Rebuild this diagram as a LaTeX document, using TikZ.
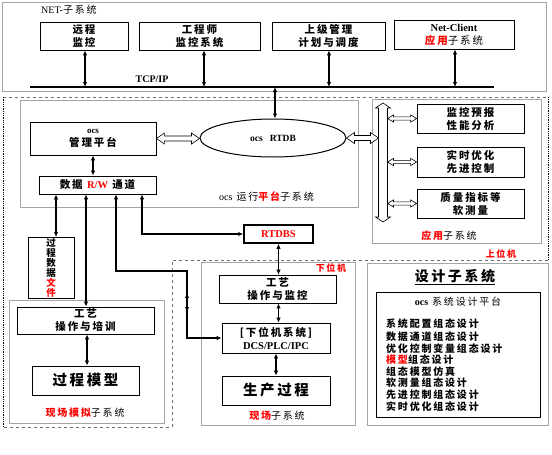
\documentclass[tikz,border=0pt]{standalone}
\usepackage{fontspec}
\setmainfont{Liberation Serif}
\newfontfamily\cjk[LetterSpace=18]{Noto Sans CJK SC}
\usetikzlibrary{calc,arrows.meta,shapes.geometric}
\definecolor{gline}{RGB}{165,165,165}
\definecolor{dline}{RGB}{110,110,110}
\newcommand\fs[2]{\fontsize{#1}{#2}\selectfont}
\newcommand\lt[1]{{\rmfamily\bfseries #1}}
\newcommand\rd[1]{\textcolor{red}{#1}}
\newcommand\boxat[7]{\node[box,#6,minimum width={#4pt-#2pt},minimum height={#5pt-#3pt}] (#1) at ({(#2+#4)/2},{(#3+#5)/2}) {#7};}
\newcommand\hollowH[5]{%
 \draw[hollow] let \p1=#1, \p2=#2 in
 (\x1,\y1) -- (\x1+#5,\y1+#4) -- (\x1+#5,\y1+#3) -- (\x2-#5,\y1+#3) -- (\x2-#5,\y1+#4) -- (\x2,\y1)
 -- (\x2-#5,\y1-#4) -- (\x2-#5,\y1-#3) -- (\x1+#5,\y1-#3) -- (\x1+#5,\y1-#4) -- cycle;}
\newcommand\hollowV[5]{%
 \draw[hollow] let \p1=#1, \p2=#2 in
 (\x1,\y1) -- (\x1+#4,\y1-#5) -- (\x1+#3,\y1-#5) -- (\x1+#3,\y2+#5) -- (\x1+#4,\y2+#5) -- (\x1,\y2)
 -- (\x1-#4,\y2+#5) -- (\x1-#3,\y2+#5) -- (\x1-#3,\y1-#5) -- (\x1-#4,\y1-#5) -- cycle;}
\begin{document}
\begin{tikzpicture}[x=1pt,y=-1pt,
  box/.style={draw=black,line width=0.8pt,fill=white,align=center,inner sep=1pt,font=\cjk\bfseries\fs{10.5}{13}},
  gbox/.style={draw=gline,line width=0.9pt},
  conn/.style={line width=1.5pt,{Latex[length=5pt,width=4.5pt]}-{Latex[length=5pt,width=4.5pt]}},
  hollow/.style={draw=black,fill=white,line width=0.6pt,line join=miter},
  lbl/.style={inner sep=0pt,font=\cjk\fs{10}{12}},
  item/.style={inner sep=0pt,anchor=west,font=\cjk\bfseries\fs{10}{12}}]
\useasboundingbox (0,0) rectangle (552,455);
\fill[white] (0,0) rectangle (552,455);

% ---------- NET subsystem ----------
\draw[gbox] (2,2) rectangle (546,91);
\node[lbl,anchor=west] (netlbl) at (41,10) {{\rmfamily NET-}子系统};
\boxat{rc}{40}{22}{128}{50}{}{远程\\监控}
\boxat{eng}{139}{22}{260}{50}{}{工程师\\监控系统}
\boxat{sup}{272}{22}{385}{50}{}{上级管理\\计划与调度}
\boxat{nc}{394}{20}{514}{49}{}{\lt{Net-Client}\\\rd{应用}{\mdseries 子系统}}
\coordinate (busw) at (30,87);
\coordinate (buse) at (494,87);
\draw[line width=1.6pt] (busw) -- (buse);
\node[inner sep=0pt,font=\rmfamily\bfseries\fs{10}{12}] (tcp) at (152,79) {TCP/IP};
\coordinate (b1) at (85,87);
\coordinate (b2) at (204,87);
\coordinate (b3) at (329,87);
\coordinate (b4) at (455,87);
\coordinate (b0) at (275,87);
\draw[conn] (rc.south -| b1) -- (b1);
\draw[conn] (eng.south -| b2) -- (b2);
\draw[conn] (sup.south -| b3) -- (b3);
\draw[conn] (nc.south -| b4) -- (b4);

% ---------- upper/lower machine regions ----------
\draw[dline,dashed,line width=0.8pt] (3,97) -- (548,97);
\draw[densely dotted,line width=0.8pt] (548,97) -- (548,260);
\draw[dline,dashed,line width=0.8pt] (548,260) -- (172,260) -- (172,427) -- (3,427);
\draw[densely dotted,line width=0.8pt] (3,427) -- (3,97);
\node[inner sep=0pt,font=\cjk\bfseries\fs{9}{11},text=red] (upper) at (501,254) {上位机};
\node[inner sep=0pt,font=\cjk\bfseries\fs{9}{11},text=red] (lower) at (331,268) {下位机};

% ---------- OCS run platform ----------
\draw[gbox] (20,100) rectangle (358,207);
\node[lbl,anchor=west] (ocslbl) at (219,197) {{\rmfamily ocs} 运行\rd{\bfseries 平台}子系统};
\boxat{mgmt}{30}{122}{156}{155}{}{{\rmfamily\fs{9}{11}ocs}\\管理平台}
\boxat{rw}{39}{176}{156}{194}{}{数据 \lt{\rd{R/W}} 通道}
\node[draw,ellipse,line width=1pt,fill=white,minimum width=146pt,minimum height=38pt,inner sep=0pt,
      font=\rmfamily\bfseries\fs{9.5}{11}] (rtdb) at (273,138) {ocs\ \ \ RTDB};
\draw[conn] (mgmt.south -| rw.north) ++(-4.5pt,0) coordinate (mr1) -- (mr1 |- rw.north);
\draw[conn] (b0) -- (b0 |- rtdb.north);
\hollowH{(mgmt.east)}{(rtdb.west)}{2.5pt}{5.5pt}{8pt}

% ---------- application subsystem ----------
\draw[gbox] (372,99) rectangle (541,243);
\node[lbl] (applbl) at (449,236) {\rd{\bfseries 应用}子系统};
\coordinate (bt) at (383,103);
\coordinate (bb) at (383,222);
\coordinate (busL) at (378.5,103);
\coordinate (busR) at (387.5,103);
\hollowV{(bt)}{(bb)}{4.5pt}{7.5pt}{5pt}
\boxat{a1}{417}{104}{524}{133}{}{监控预报\\性能分析}
\boxat{a2}{417}{147}{524}{177}{}{实时优化\\先进控制}
\boxat{a3}{417}{189}{524}{218}{}{质量指标等\\软测量}
\hollowH{(rtdb.east)}{(busL |- rtdb.east)}{2.5pt}{5.5pt}{8pt}
\hollowH{(busR |- a1.west)}{(a1.west)}{1.6pt}{3.6pt}{6pt}
\hollowH{(busR |- a2.west)}{(a2.west)}{1.6pt}{3.6pt}{6pt}
\hollowH{(busR |- a3.west)}{(a3.west)}{1.6pt}{3.6pt}{6pt}

% ---------- RTDBS ----------
\boxat{rtdbs}{244}{225}{313}{243}{line width=1.5pt}{\lt{\rd{RTDBS}}}

% ---------- field simulation subsystem ----------
\draw[gbox] (9,300) rectangle (164,423);
\node[lbl] (simlbl) at (85,413) {\rd{\bfseries 现场模拟}子系统};
\boxat{pdf}{28}{238}{74}{298}{font=\cjk\bfseries\fs{9.5}{8.2}}{过\\程\\数\\据\\\rd{文}\\\rd{件}}
\boxat{train}{17}{307}{154}{334}{}{工艺\\操作与培训}
\boxat{model}{32}{366}{139}{395}{font=\cjk\bfseries\fs{14.5}{16}}{过程模型}
\draw[conn] (train.south) ++(1.5pt,0) coordinate (tm) -- (tm |- model.north);

% ---------- field subsystem ----------
\draw[gbox] (201,262) rectangle (355,425);
\node[lbl] (fldlbl) at (277,416) {\rd{\bfseries 现场}子系统};
\boxat{mon}{219}{275}{336}{303}{}{工艺\\操作与监控}
\boxat{plc}{222}{323}{330}{353}{}{[下位机系统]\\\lt{DCS/PLC/IPC}}
\boxat{prod}{222}{376}{330}{405}{font=\cjk\bfseries\fs{14.5}{16}}{生产过程}
\draw[conn] (rtdbs.south) -- (rtdbs.south |- mon.north);
\draw[conn] (mon.south) ++(1pt,0) coordinate (mp) -- (mp |- plc.north);
\draw[conn] (plc.south) -- (prod.north);

% ---------- connectors from R/W channel ----------
\coordinate (c1) at (56,0);
\coordinate (c2) at (86,0);
\coordinate (c3a) at (116,271);
\coordinate (c3b) at (187,271);
\coordinate (c4) at (142,234);
\draw[conn] (rw.south -| c1) -- (pdf.north -| c1);
\draw[conn] (rw.south -| c2) -- (train.north -| c2);
\draw[conn] (rw.south -| c3a) -- (c3a) -- (c3b) -- (c3b |- plc.west) -- (plc.west);
\coordinate (m1) at (187,293);
\coordinate (m2) at (187,312);
\draw[conn] (m1) -- (m2);
\draw[conn] (rw.south -| c4) -- (c4) -- (c4 -| rtdbs.west);

% ---------- design subsystem ----------
\draw[gbox] (367,263) rectangle (548,425);
\node[inner sep=0pt,font=\cjk\bfseries\fs{14}{16}] (dtitle) at (455,277) {\underline{设计子系统}};
\node[draw,line width=0.8pt,minimum width=164pt,minimum height=125pt,inner sep=0pt] (dplat) at (458,354.5) {};
\node[inner sep=0pt,font=\cjk\fs{10}{12}] (dplatlbl) at (458,302) {{\rmfamily\bfseries ocs} 系统设计平台};
\node[item] (d1) at (386,324) {系统配置组态设计};
\node[item] (d2) at (386,337) {数据通道组态设计};
\node[item] (d3) at (386,349) {优化控制变量组态设计};
\node[item] (d4) at (386,360) {\rd{模型}组态设计};
\node[item] (d5) at (386,372) {组态模型仿真};
\node[item] (d6) at (386,383) {软测量组态设计};
\node[item] (d7) at (386,395) {先进控制组态设计};
\node[item] (d8) at (386,407) {实时优化组态设计};
\end{tikzpicture}
\end{document}
